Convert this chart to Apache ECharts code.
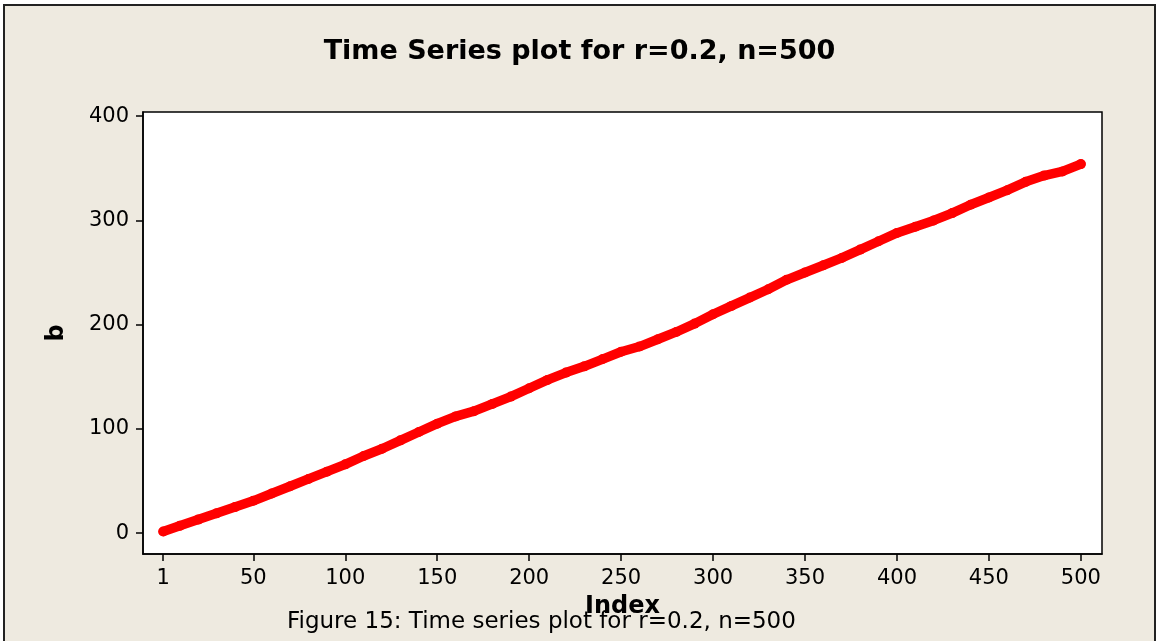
<!DOCTYPE html>
<html>
<head>
<meta charset="utf-8">
<title>Time Series plot</title>
<script src="https://cdn.jsdelivr.net/npm/echarts@6/dist/echarts.min.js"></script>
<style>
  html, body { margin: 0; padding: 0; background: #fff; }
  #chart { width: 1159px; height: 641px; }
</style>
</head>
<body>
<div id="chart"></div>
<script>
// index values (x) and b values (y)
const indexes = [1, 10, 20, 30, 40, 50, 60, 70, 80, 90, 100, 110, 120, 130, 140, 150, 160, 170, 180, 190,
  200, 210, 220, 230, 240, 250, 260, 270, 280, 290, 300, 310, 320, 330, 340, 350, 360, 370, 380, 390,
  400, 410, 420, 430, 440, 450, 460, 470, 480, 490, 500];
const bValues = [1.5, 7, 13, 19, 25, 31, 38, 45, 52, 59, 66, 74, 81, 89, 97, 105, 112, 117, 124, 131,
  139, 147, 154, 160, 167, 174, 179, 186, 193, 201, 210, 218, 226, 234, 243, 250, 257, 264, 272, 280,
  288, 294, 300, 307, 315, 322, 329, 337, 343, 347, 354];
const xTicks = [1, 50, 100, 150, 200, 250, 300, 350, 400, 450, 500];
const yTicks = [0, 100, 200, 300, 400];

const font = 'DejaVu Sans';
const chart = echarts.init(document.getElementById('chart'), null, { renderer: 'canvas' });

let points = indexes.map((x, i) => [x, bValues[i]]);

let option = {
  animation: false,
  textStyle: { fontFamily: font },
  title: {
    text: 'Time Series plot for r=0.2, n=500',
    left: 'center',
    top: 33,
    textStyle: { fontFamily: font, fontSize: 27, fontWeight: 'bold', color: '#000' }
  },
  graphic: [
    { // outer frame
      type: 'rect', z: -10, silent: true,
      shape: { x: 4, y: 5, width: 1151, height: 660 },
      style: { fill: '#eeeae0', stroke: '#222', lineWidth: 2 }
    },
    { // caption under the chart
      type: 'text', left: 287, top: 611, z: 5,
      style: { text: 'Figure 15: Time series plot for r=0.2, n=500', fill: '#000', font: '23px "DejaVu Sans"' }
    }
  ],
  grid: {
    left: 143, top: 112, right: 57, bottom: 87,
    show: true, backgroundColor: '#fff', borderColor: '#000', borderWidth: 1.5
  },
  xAxis: {
    type: 'value', min: -10, max: 511.5,
    name: 'Index', nameLocation: 'middle', nameGap: 41,
    nameTextStyle: { fontFamily: font, fontSize: 24, fontWeight: 'bold', color: '#000' },
    axisLine: { show: true, onZero: false, lineStyle: { color: '#000', width: 1.5 } },
    axisTick: { show: true, inside: false, length: 7, lineStyle: { color: '#000', width: 1.5 }, customValues: xTicks },
    axisLabel: { fontSize: 21, color: '#000', margin: 14, customValues: xTicks, fontFamily: font },
    splitLine: { show: false }
  },
  yAxis: {
    type: 'value', min: -20, max: 404,
    name: 'b', nameLocation: 'middle', nameGap: 74, nameRotate: 90,
    nameTextStyle: { fontFamily: font, fontSize: 24, fontWeight: 'bold', color: '#000' },
    axisLine: { show: true, onZero: false, lineStyle: { color: '#000', width: 1.5 } },
    axisTick: { show: true, inside: false, length: 7, lineStyle: { color: '#000', width: 1.5 }, customValues: yTicks },
    axisLabel: { fontSize: 21, color: '#000', margin: 14, customValues: yTicks, fontFamily: font },
    splitLine: { show: false }
  },
  series: [{
    type: 'line',
    data: points,
    symbol: 'circle',
    symbolSize: 10,
    itemStyle: { color: '#ff0000' },
    lineStyle: { color: '#ff0000', width: 9.5, cap: 'round', join: 'round' },
    clip: false
  }]
};
chart.setOption(option);
</script>
</body>
</html>
